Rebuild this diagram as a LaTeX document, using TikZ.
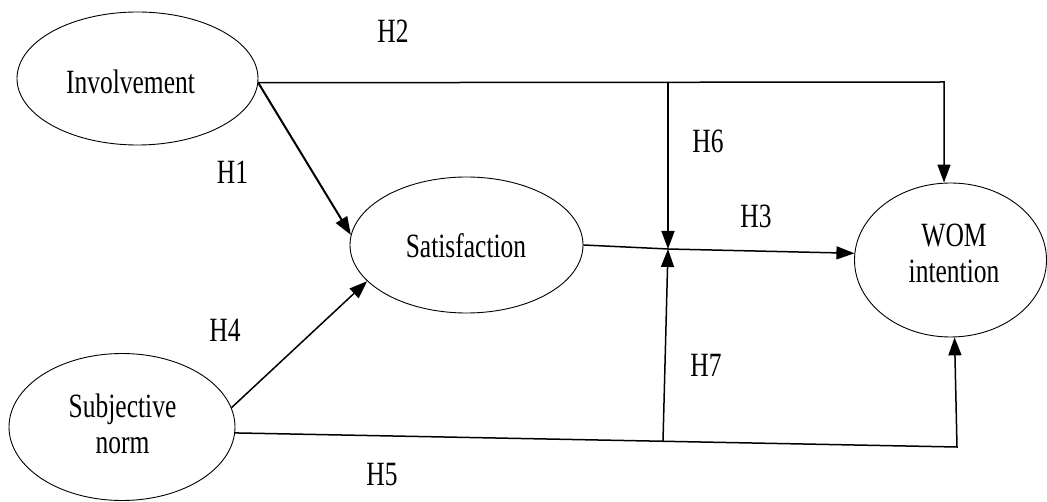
\documentclass[tikz,border=0pt]{standalone}
\usepackage{fontspec}
\setmainfont{Liberation Serif}[FakeStretch=0.75]
\usetikzlibrary{arrows.meta,shapes.geometric}
\tikzset{
  construct/.style={draw, line width=0.9pt, ellipse, inner sep=0pt},
  txt/.style={font=\fontsize{34}{36}\selectfont, inner sep=0pt, align=center},
  hyp/.style={font=\fontsize{34}{36}\selectfont, inner sep=0pt, anchor=base},
  conn/.style={line width=1.5pt},
  arr/.style={conn, -{Triangle[width=13pt,length=18pt]}}
}
\begin{document}
\begin{tikzpicture}[x=1pt,y=-1pt]
\useasboundingbox (0,0) rectangle (1047,502);
% constructs
\node[construct, minimum width=241pt, minimum height=133pt] (inv) at (137.5,78.5) {};
\node[construct, minimum width=233pt, minimum height=136pt] (sat) at (466.5,245) {};
\node[construct, minimum width=192pt, minimum height=154pt] (wom) at (950.5,260) {};
\node[construct, minimum width=226pt, minimum height=147pt] (sn) at (122,427) {};
% construct texts
\node[hyp] (invt) at (130.5,94) {Involvement};
\node[hyp] (satt) at (466,258) {Satisfaction};
\node[txt] (womt) at (954,253.5) {WOM\\intention};
\node[txt] (snt) at (122.5,424) {Subjective\\norm};
% hypothesis labels
\node[hyp] (h1) at (232.5,184) {H1};
\node[hyp] (h2) at (393,43) {H2};
\node[hyp] (h3) at (756,228) {H3};
\node[hyp] (h4) at (225,342) {H4};
\node[hyp] (h5) at (382,485) {H5};
\node[hyp] (h6) at (708,153) {H6};
\node[hyp] (h7) at (706,377) {H7};
% helper coordinates
\coordinate (h2c) at (944,82);
\coordinate (h6top) at (668,82);
\coordinate (j) at (668,249);
\coordinate (h7bot) at (663,441);
\coordinate (h5c) at (957,447);
% connectors
\draw[arr, line width=2pt] (inv.-2) -- (sat.175);
\draw[arr] (sn.10) -- (sat.200);
\draw[arr] (inv.-2) -- (h2c) -- (wom.north -| h2c);
\draw[arr] (sat.east) -- (j) -- (wom.176);
\draw[arr] (h6top) -- (j);
\draw[arr] (sn.-3) -- (h5c) -- (wom.-87);
\draw[arr] (h7bot) -- (j);
\end{tikzpicture}
\end{document}
